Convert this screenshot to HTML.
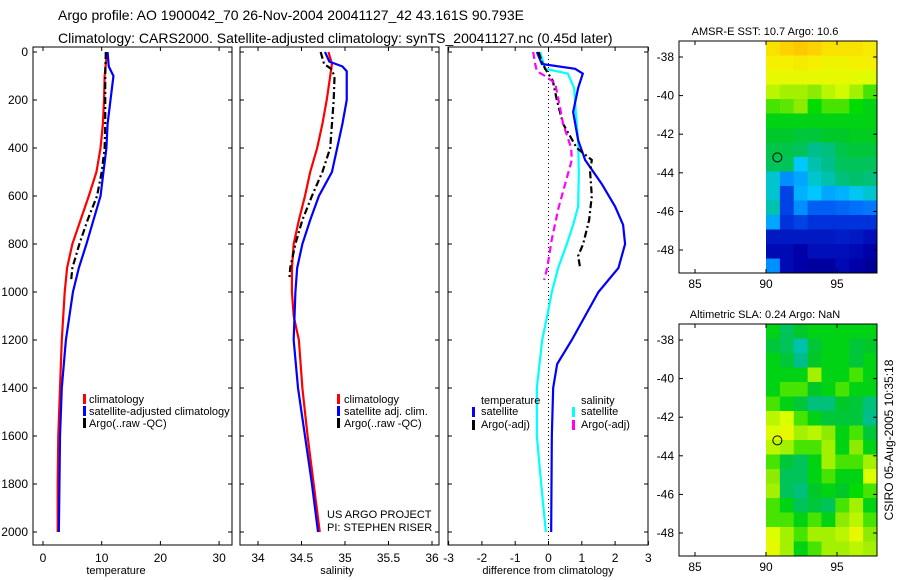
<!DOCTYPE html>
<html><head><meta charset="utf-8"><style>
body{margin:0;background:#fff}
svg{display:block;font-family:"Liberation Sans",sans-serif}
</style></head><body>
<svg id="c" width="900" height="580" viewBox="0 0 900 580" xmlns="http://www.w3.org/2000/svg">
<text x="58" y="20" font-size="14">Argo profile: AO 1900042_70 26-Nov-2004 20041127_42 43.161S 90.793E</text>
<text x="58" y="43" font-size="14">Climatology: CARS2000. Satellite-adjusted climatology: synTS_20041127.nc (0.45d later)</text>
</svg>
<script>
// ---- data arrays ----
const depthTicks=[0,200,400,600,800,1000,1200,1400,1600,1800,2000];
const tTicks=[0,10,20,30];
const sTicks=[34,34.5,35,35.5,36];
const sTickLabels=["34","34.5","35","35.5","36"];
const dTicks=[-3,-2,-1,0,1,2,3];
const tClimD=[0,100,200,300,400,500,600,700,800,900,1000,1200,1400,1600,1800,2000];
const tClim=[10.9,10.5,10.4,10.2,9.8,9.1,7.8,6.4,5.0,4.1,3.7,3.2,2.9,2.6,2.5,2.5];
const tSatD=[0,60,100,200,300,400,500,600,700,800,900,1000,1200,1400,1600,1800,2000];
const tSat=[11,11.2,12.0,11.5,11.0,10.8,10.3,9.8,8.6,7.4,6.1,5.1,3.9,3.2,2.9,2.8,2.7];
const tArgD=[0,100,200,300,400,500,600,700,800,900,950];
const tArg=[10.7,10.6,10.6,10.6,10.5,10.0,9.2,7.6,6.2,5.0,4.8];
const sClimD=[0,50,100,200,300,400,500,600,700,800,900,1000,1100,1200,1400,1600,1800,2000];
const sClim=[34.81,34.85,34.83,34.79,34.74,34.68,34.60,34.54,34.47,34.41,34.39,34.39,34.41,34.47,34.51,34.57,34.64,34.71];
const sSatD=[0,40,60,80,100,200,300,400,500,600,700,800,900,1000,1200,1400,1600,1800,2000];
const sSat=[34.77,34.82,34.97,35.02,35.02,35.02,34.97,34.91,34.85,34.70,34.60,34.51,34.45,34.43,34.41,34.46,34.54,34.62,34.69];
const sArgD=[0,50,70,100,200,300,400,500,600,700,800,900,950];
const sArg=[34.72,34.76,34.84,34.88,34.87,34.85,34.83,34.74,34.62,34.51,34.43,34.37,34.36];
const dTSatD=[0,50,70,90,150,250,367,450,550,644,720,800,900,1000,1200,1300,1400,1600,2000];
const dTSat=[-0.35,-0.2,0.8,1.03,0.89,0.74,0.89,1.1,1.6,2.0,2.24,2.3,2.1,1.5,0.7,0.26,0.14,0.1,0.08];
const dSSatD=[0,70,90,150,250,367,505,644,720,800,900,1000,1100,1200,1400,1600,1800,2000];
const dSSat=[-0.25,-0.1,0.58,0.77,0.82,0.89,0.91,0.89,0.74,0.55,0.29,0.1,-0.04,-0.19,-0.35,-0.35,-0.22,-0.08];
const dTArgD=[0,40,70,120,200,300,400,450,500,600,700,800,850,900];
const dTArg=[-0.3,-0.2,-0.1,0.13,0.25,0.44,0.85,1.3,1.25,1.3,1.22,1.04,0.89,0.95];
const dSArgD=[0,50,80,100,130,200,300,400,450,550,650,780,900,950];
const dSArg=[-0.46,-0.4,-0.35,-0.1,0.2,0.3,0.44,0.68,0.7,0.5,0.3,0.1,-0.04,-0.13];
const lonTicks=[85,90,95];
const latTicks=[-38,-40,-42,-44,-46,-48];
const sstGrid=[
[.75,.78,.8,.78,.75,.75,.75,.73],[.72,.72,.73,.72,.7,.7,.72,.72],[.68,.68,.68,.68,.68,.68,.67,.66],
[.62,.6,.6,.58,.62,.64,.6,.55],[.55,.56,.58,.52,.55,.55,.52,.5],[.5,.5,.5,.5,.5,.5,.5,.5],
[.48,.48,.47,.47,.48,.48,.49,.49],[.46,.46,.45,.42,.43,.46,.47,.47],[.45,.45,.35,.4,.42,.45,.45,.45],
[.38,.3,.32,.38,.4,.43,.44,.43],[.38,.22,.33,.35,.32,.33,.36,.38],[.4,.22,.3,.25,.25,.26,.27,.28],
[.32,.2,.22,.2,.2,.2,.2,.2],[.15,.15,.15,.15,.15,.16,.15,.13],[.12,.12,.1,.13,.13,.13,.12,.1],
[.3,.12,.1,.08,.08,.12,.1,.07]];
const slaGrid=[
[.5,.45,.48,.5,.5,.5,.5,.5],[.47,.45,.4,.47,.5,.5,.47,.48],[.5,.47,.42,.48,.5,.5,.47,.5],
[.5,.5,.5,.6,.5,.5,.55,.5],[.5,.55,.55,.48,.5,.55,.5,.5],[.55,.5,.47,.43,.43,.48,.47,.43],
[.62,.65,.55,.5,.47,.47,.47,.42],[.65,.68,.6,.62,.58,.5,.55,.47],[.62,.6,.55,.55,.6,.5,.58,.5],
[.55,.47,.45,.5,.6,.55,.55,.6],[.58,.45,.45,.5,.55,.5,.5,.65],[.6,.45,.43,.48,.5,.48,.52,.55],
[.55,.5,.45,.47,.45,.55,.6,.5],[.55,.55,.5,.55,.5,.58,.62,.55],[.65,.6,.55,.6,.6,.62,.68,.58],
[.68,.6,.5,.55,.6,.6,.62,.6]];
const floatLon=90.8, floatLat=-43.2;

// ---- helpers ----
const NS="http://www.w3.org/2000/svg", svg=document.getElementById('c');
function mk(tag,at,parent){const e=document.createElementNS(NS,tag);for(const k in at)e.setAttribute(k,at[k]);(parent||svg).appendChild(e);return e;}
const Y=d=>52+d*0.24;
const xT=v=>43+v*5.87, xS=v=>258+(v-34)*87, xD=v=>548.5+v*33.3;
function frame(x0,x1,name){
  const r=mk('rect',{x:x0,y:47,width:x1-x0,height:498,fill:'none',stroke:'#000','stroke-width':1});
  
  
  depthTicks.forEach(d=>{mk('line',{x1:x0,x2:x0+4,y1:Y(d),y2:Y(d),stroke:'#000'});mk('line',{x1:x1-4,x2:x1,y1:Y(d),y2:Y(d),stroke:'#000'});});
}
function xticks(vals,fx,labels,ax){
  vals.forEach((v,i)=>{const x=fx(v);
    mk('line',{x1:x,x2:x,y1:47,y2:51,stroke:'#000'});mk('line',{x1:x,x2:x,y1:541,y2:545,stroke:'#000'});
    const t=mk('text',{x:x,y:562,'font-size':12,'text-anchor':'middle'});t.textContent=labels?labels[i]:String(v);
    
    
  });
}
function line(ds,vs,fx,color,dash,name,w){
  const p=mk('polyline',{points:ds.map((d,i)=>fx(vs[i])+','+Y(d)).join(' '),fill:'none',stroke:color,'stroke-width':w||2.2});
  if(dash)p.setAttribute('stroke-dasharray',dash);
  
  
}
function txt(x,y,s,size,name,anchor){const t=mk('text',{x:x,y:y,'font-size':size||11,'text-anchor':anchor||'start'});t.textContent=s;
  
  
  return t;}
function legBar(x,y,c){mk('rect',{x:x,y:y-9,width:3,height:10,fill:c});}

// Panel 1
frame(33,232,'temperature-panel');
depthTicks.forEach(d=>{txt(28,Y(d)+4,String(d),12,'depth-tick-label','end');});
xticks(tTicks,xT,null,'temperature');
line(tClimD,tClim,xT,'#f00',null,'temperature-climatology-line');
line(tSatD,tSat,xT,'#00f',null,'temperature-satellite-line');
line(tArgD,tArg,xT,'#000','7,3,2,3','temperature-argo-line');
txt(116,574,'temperature',11,'x-axis-title-temperature','middle');
legBar(83,403,'#f00');legBar(83,415,'#00f');legBar(83,427,'#000');
txt(89,403,'climatology',11,'legend-entry-climatology');
txt(89,415,'satellite-adjusted climatology',11,'legend-entry-satellite');
txt(89,427,'Argo(..raw -QC)',11,'legend-entry-argo');

// Panel 2
frame(240,439,'salinity-panel');
xticks(sTicks,xS,sTickLabels,'salinity');
line(sClimD,sClim,xS,'#f00',null,'salinity-climatology-line');
line(sSatD,sSat,xS,'#00f',null,'salinity-satellite-line');
line(sArgD,sArg,xS,'#000','7,3,2,3','salinity-argo-line');
txt(337,574,'salinity',11,'x-axis-title-salinity','middle');
legBar(337,403,'#f00');legBar(337,415,'#00f');legBar(337,427,'#000');
txt(344,403,'climatology',11,'legend-entry-climatology-sal');
txt(344,415,'satellite adj. clim.',11,'legend-entry-satellite-sal');
txt(344,427,'Argo(..raw -QC)',11,'legend-entry-argo-sal');
txt(327,518,'US ARGO PROJECT',11,'credit-project');
txt(327,531,'PI: STEPHEN RISER',11,'credit-pi');

// Panel 3
frame(448,648,'difference-panel');
xticks(dTicks,xD,null,'difference');
mk('line',{x1:xD(0),x2:xD(0),y1:47,y2:545,stroke:'#000','stroke-dasharray':'1,3'});
line(dSSatD,dSSat,xD,'#0ff',null,'salinity-satellite-diff-line');
line(dTSatD,dTSat,xD,'#00f',null,'temperature-satellite-diff-line');
line(dTArgD,dTArg,xD,'#000','7,3,2,3','temperature-argo-diff-line');
line(dSArgD,dSArg,xD,'#f0f','7,4','salinity-argo-diff-line');
txt(548,574,'difference from climatology',11,'x-axis-title-difference','middle');
txt(481,404,'temperature',11,'legend-header-temperature');
txt(581,404,'salinity',11,'legend-header-salinity');
legBar(472,416,'#00f');legBar(472,429,'#000');legBar(572,416,'#0ff');legBar(572,429,'#f0f');
txt(481,415,'satellite',11,'legend-entry-temp-satellite');
txt(481,428,'Argo(-adj)',11,'legend-entry-temp-argo');
txt(581,415,'satellite',11,'legend-entry-sal-satellite');
txt(581,428,'Argo(-adj)',11,'legend-entry-sal-argo');

// Maps
const cmStops=[[0,0,0,110],[0.1,0,0,170],[0.2,0,50,220],[0.28,0,120,255],[0.35,0,200,255],[0.42,0,190,140],[0.48,0,200,40],[0.52,0,220,0],[0.58,140,235,0],[0.65,220,255,0],[0.72,245,240,0],[0.8,255,200,0],[0.9,255,140,0],[1,255,80,0]];
function cmap(v){
  for(let i=1;i<cmStops.length;i++){const a=cmStops[i-1],b=cmStops[i];
    if(v<=b[0]){const t=(v-a[0])/(b[0]-a[0]);return 'rgb('+[1,2,3].map(k=>Math.round(a[k]+(b[k]-a[k])*t)).join(',')+')';}}
  return 'rgb(255,80,0)';
}
function map(top,grid,title,name){
  const lx=lon=>766+(lon-90)*14.2, ly=lat=>top+16+(-38-lat)*19.3;
  const bot=top+232;
  const g=mk('g',{});
  
  
  const rows=grid.length, cols=grid[0].length, cw=(877-766)/cols, ch=(bot-top)/rows;
  grid.forEach((row,r)=>row.forEach((v,k)=>{
    const c=mk('rect',{x:766+k*cw,y:top+r*ch,width:cw+0.5,height:ch+0.5,fill:cmap(v)},g);
    
    
  }));
  mk('rect',{x:679,y:top,width:198,height:bot-top,fill:'none',stroke:'#000'});
  latTicks.forEach(l=>{const y=ly(l);mk('line',{x1:679,x2:683,y1:y,y2:y,stroke:'#000'});mk('line',{x1:873,x2:877,y1:y,y2:y,stroke:'#000'});
    txt(674,y+4,String(l),12,'latitude-tick-label','end');});
  lonTicks.forEach(l=>{const x=lx(l);mk('line',{x1:x,x2:x,y1:top,y2:top+4,stroke:'#000'});mk('line',{x1:x,x2:x,y1:bot-4,y2:bot,stroke:'#000'});
    txt(x,bot+15,String(l),12,'longitude-tick-label','middle');});
  const m=mk('circle',{cx:lx(floatLon),cy:ly(floatLat),r:4.5,fill:'none',stroke:'#000'});
  
  
  txt(765,top-6,title,11,name+'-title','middle');
}
map(41,sstGrid,'AMSR-E SST: 10.7 Argo: 10.6','sst-map');
map(324,slaGrid,'Altimetric SLA: 0.24 Argo: NaN','sla-map');
const st=txt(0,0,'CSIRO 05-Aug-2005 10:35:18',12,'timestamp-label','middle');
st.setAttribute('transform','translate(893,440) rotate(-90)');
</script>
</body></html>
